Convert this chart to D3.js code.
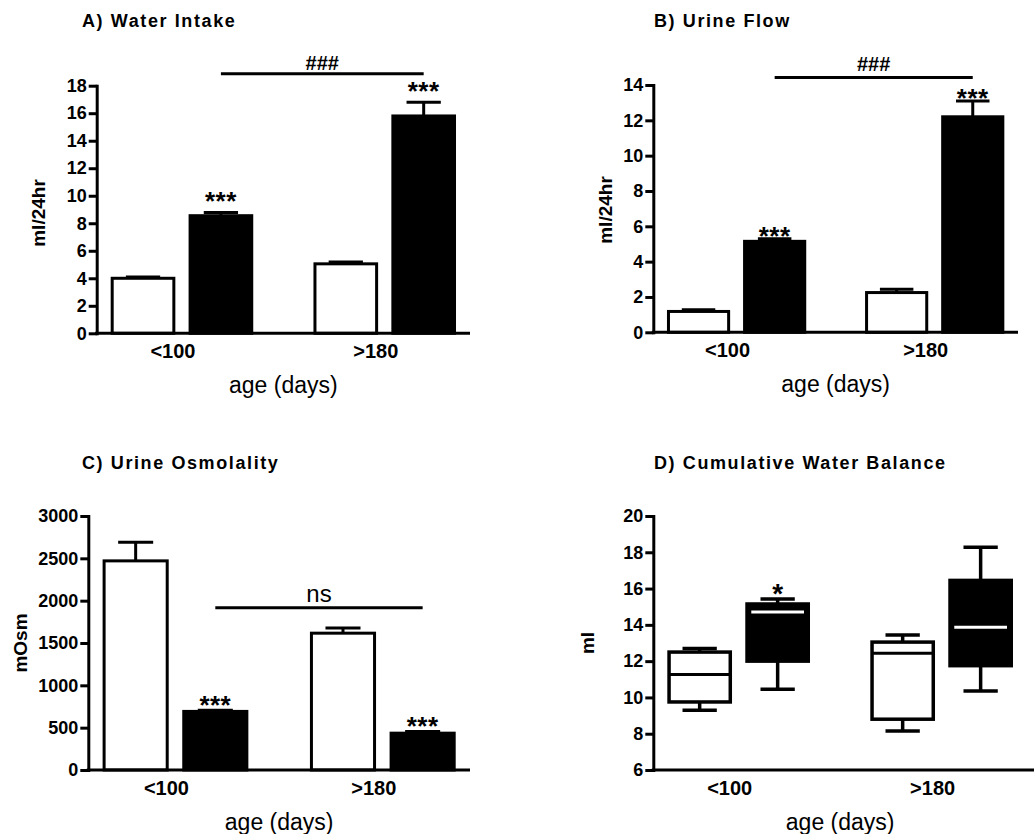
<!DOCTYPE html>
<html><head><meta charset="utf-8">
<script src="https://cdn.jsdelivr.net/npm/d3@7"></script>
<style>
body{margin:0;background:#fff}
svg{display:block}
text{font-family:"Liberation Sans", Arial, Helvetica, sans-serif; fill:#000}
</style>
</head><body>
<svg id="chart" width="1034" height="834"></svg>
<script>
// ---------- data ----------
const groups = ["<100", ">180"];
const series = ["control", "treated"];

// A) Water Intake (ml/24hr), mean and SEM
const intakeCtrl = [4.0, 5.05];
const intakeCtrlSem = [0.1, 0.14];
const intakeTreat = [8.55, 15.8];
const intakeTreatSem = [0.24, 1.0];
const intakeTicks = [0, 2, 4, 6, 8, 10, 12, 14, 16, 18];
const intakeStars = ["***", "***"];
const intakeSig = {label: "###", value: 18.87};

// B) Urine Flow (ml/24hr)
const flowCtrl = [1.18, 2.25];
const flowCtrlSem = [0.1, 0.19];
const flowTreat = [5.15, 12.2];
const flowTreatSem = [0.15, 0.9];
const flowTicks = [0, 2, 4, 6, 8, 10, 12, 14];
const flowStars = ["***", "***"];
const flowSig = {label: "###", value: 14.42};

// C) Urine Osmolality (mOsm)
const osmCtrl = [2470, 1616];
const osmCtrlSem = [220, 60];
const osmTreat = [692, 435];
const osmTreatSem = [15, 20];
const osmTicks = [0, 500, 1000, 1500, 2000, 2500, 3000];
const osmStars = ["***", "***"];
const osmSig = {label: "ns", value: 1917};

// D) Cumulative Water Balance (ml): [min, q1, median, q3, max]
const balanceCtrl = [[9.3, 9.75, 11.27, 12.5, 12.7], [8.15, 8.8, 12.43, 13.05, 13.44]];
const balanceTreat = [[10.45, 12.0, 14.71, 15.15, 15.43], [10.36, 11.75, 13.87, 16.45, 18.28]];
const balanceTicks = [6, 8, 10, 12, 14, 16, 18, 20];
const balanceStars = ["*", ""];

// ---------- drawing ----------
const svg = d3.select("#chart");
const FONT_BOLD = 700;

function scalesFor(cfg) {
  const y = d3.scaleLinear().domain([cfg.ticks[0], cfg.ticks[cfg.ticks.length - 1]]).range([cfg.bottom, cfg.top]);
  const x0 = d3.scaleBand().domain(groups).range([cfg.left, cfg.right]).paddingInner(0.297).paddingOuter(0.069);
  const x1 = d3.scaleBand().domain(series).range([0, x0.bandwidth()]).paddingInner(0.17);
  return {x0, x1, y};
}

function drawFrame(g, cfg, s) {
  const {x0, y} = s;
  // title
  g.append("text").attr("x", cfg.titleX).attr("y", cfg.titleY)
    .attr("font-size", 18).attr("font-weight", FONT_BOLD).attr("letter-spacing", "1.6px")
    .text(cfg.title);
  // y axis
  const ay = g.append("g").attr("transform", `translate(${cfg.left},0)`)
    .call(d3.axisLeft(y).tickValues(cfg.ticks).tickSize(8).tickSizeOuter(0).tickPadding(2).tickFormat(d3.format("d")));
  ay.select(".domain").attr("stroke-width", 3).attr("stroke-linecap", "square");
  ay.selectAll(".tick line").attr("stroke-width", 3);
  ay.selectAll(".tick text").attr("font-size", 18).attr("font-weight", FONT_BOLD)
    .attr("font-family", '"Liberation Sans", Arial, sans-serif').attr("fill", "#000");
  // x axis line
  g.append("line").attr("x1", cfg.left - 1.5).attr("x2", cfg.axisEnd)
    .attr("y1", cfg.bottom).attr("y2", cfg.bottom).attr("stroke", "#000").attr("stroke-width", 3);
  // category labels
  g.selectAll("text.cat").data(groups).join("text").attr("class", "cat")
    .attr("x", d => x0(d) + x0.bandwidth() / 2 - 9).attr("y", cfg.bottom + 25)
    .attr("text-anchor", "middle").attr("font-size", 20).attr("font-weight", FONT_BOLD)
    .text(d => d);
  // x title
  g.append("text").attr("x", (cfg.left + cfg.right) / 2).attr("y", cfg.bottom + 60)
    .attr("text-anchor", "middle").attr("font-size", 23).text("age (days)");
  // y title
  g.append("text").attr("transform", `translate(${cfg.yTitleX},${cfg.yTitleY}) rotate(-90)`)
    .attr("text-anchor", "middle").attr("dy", "0.35em")
    .attr("font-size", 19).attr("font-weight", FONT_BOLD).text(cfg.yTitle);
}

function barPanel(cfg) {
  const g = svg.append("g");
  const s = scalesFor(cfg);
  const {x0, x1, y} = s;
  const rows = [];
  groups.forEach((grp, i) => {
    rows.push({grp, ser: "control", v: cfg.ctrl[i], e: cfg.ctrlSem[i], star: ""});
    rows.push({grp, ser: "treated", v: cfg.treat[i], e: cfg.treatSem[i], star: cfg.stars[i]});
  });
  const cx = d => x0(d.grp) + x1(d.ser) + x1.bandwidth() / 2;
  const capHalf = x1.bandwidth() * 0.265;
  // error bars (behind bars)
  g.selectAll("line.err").data(rows).join("line").attr("class", "err")
    .attr("x1", cx).attr("x2", cx).attr("y1", d => y(d.v)).attr("y2", d => y(d.v + d.e))
    .attr("stroke", "#000").attr("stroke-width", 3);
  g.selectAll("line.cap").data(rows).join("line").attr("class", "cap")
    .attr("x1", d => cx(d) - capHalf).attr("x2", d => cx(d) + capHalf)
    .attr("y1", d => y(d.v + d.e)).attr("y2", d => y(d.v + d.e))
    .attr("stroke", "#000").attr("stroke-width", 3);
  // bars
  g.selectAll("rect.bar").data(rows).join("rect").attr("class", "bar")
    .attr("x", d => x0(d.grp) + x1(d.ser) + 1.5).attr("width", x1.bandwidth() - 3)
    .attr("y", d => y(d.v)).attr("height", d => y(cfg.ticks[0]) - y(d.v))
    .attr("fill", d => d.ser === "control" ? "#fff" : "#000")
    .attr("stroke", "#000").attr("stroke-width", 3);
  // stars
  g.selectAll("text.star").data(rows.filter(d => d.star)).join("text").attr("class", "star")
    .attr("x", cx).attr("y", d => y(d.v + d.e) - cfg.starGap)
    .attr("text-anchor", "middle").attr("font-size", 26).attr("font-weight", FONT_BOLD)
    .attr("letter-spacing", "0.5px")
    .text(d => d.star);
  // significance line between treated bars
  const xa = x0(groups[0]) + x1("treated") + x1.bandwidth() / 2;
  const xb = x0(groups[1]) + x1("treated") + x1.bandwidth() / 2;
  g.append("line").attr("x1", xa).attr("x2", xb).attr("y1", y(cfg.sig.value)).attr("y2", y(cfg.sig.value))
    .attr("stroke", "#000").attr("stroke-width", 3);
  g.append("text").attr("x", (xa + xb) / 2).attr("y", y(cfg.sig.value) - cfg.sigGap)
    .attr("text-anchor", "middle").attr("font-size", cfg.sigSize).attr("font-weight", cfg.sigWeight)
    .text(cfg.sig.label);
  drawFrame(g, cfg, s);
}

function boxPanel(cfg) {
  const g = svg.append("g");
  const s = scalesFor(cfg);
  const {x0, x1, y} = s;
  const rows = [];
  groups.forEach((grp, i) => {
    rows.push({grp, ser: "control", q: cfg.ctrl[i], star: ""});
    rows.push({grp, ser: "treated", q: cfg.treat[i], star: cfg.stars[i]});
  });
  const cx = d => x0(d.grp) + x1(d.ser) + x1.bandwidth() / 2;
  const capHalf = x1.bandwidth() * 0.265;
  const sw = 3.5;
  // whiskers
  g.selectAll("line.wtop").data(rows).join("line").attr("class", "wtop")
    .attr("x1", cx).attr("x2", cx).attr("y1", d => y(d.q[4])).attr("y2", d => y(d.q[3]))
    .attr("stroke", "#000").attr("stroke-width", sw);
  g.selectAll("line.wbot").data(rows).join("line").attr("class", "wbot")
    .attr("x1", cx).attr("x2", cx).attr("y1", d => y(d.q[1])).attr("y2", d => y(d.q[0]))
    .attr("stroke", "#000").attr("stroke-width", sw);
  [0, 4].forEach(k => {
    g.selectAll("line.cap" + k).data(rows).join("line").attr("class", "cap" + k)
      .attr("x1", d => cx(d) - capHalf).attr("x2", d => cx(d) + capHalf)
      .attr("y1", d => y(d.q[k])).attr("y2", d => y(d.q[k]))
      .attr("stroke", "#000").attr("stroke-width", sw);
  });
  // boxes
  g.selectAll("rect.box").data(rows).join("rect").attr("class", "box")
    .attr("x", d => x0(d.grp) + x1(d.ser) + sw / 2).attr("width", x1.bandwidth() - sw)
    .attr("y", d => y(d.q[3])).attr("height", d => y(d.q[1]) - y(d.q[3]))
    .attr("fill", d => d.ser === "control" ? "#fff" : "#000")
    .attr("stroke", "#000").attr("stroke-width", sw);
  // medians
  g.selectAll("line.med").data(rows).join("line").attr("class", "med")
    .attr("x1", d => x0(d.grp) + x1(d.ser) + (d.ser === "control" ? 2 : 6))
    .attr("x2", d => x0(d.grp) + x1(d.ser) + x1.bandwidth() - (d.ser === "control" ? 2 : 6))
    .attr("y1", d => y(d.q[2])).attr("y2", d => y(d.q[2]))
    .attr("stroke", d => d.ser === "control" ? "#000" : "#fff").attr("stroke-width", 3);
  g.selectAll("text.star").data(rows.filter(d => d.star)).join("text").attr("class", "star")
    .attr("x", cx).attr("y", d => y(d.q[4]) - cfg.starGap)
    .attr("text-anchor", "middle").attr("font-size", 28).attr("font-weight", FONT_BOLD)
    .text(d => d.star);
  drawFrame(g, cfg, s);
}

barPanel({title: "A) Water Intake", titleX: 82, titleY: 27, yTitle: "ml/24hr", yTitleX: 38, yTitleY: 213,
  left: 96.7, right: 470, axisEnd: 470, top: 85.7, bottom: 333.3, ticks: intakeTicks,
  ctrl: intakeCtrl, ctrlSem: intakeCtrlSem, treat: intakeTreat, treatSem: intakeTreatSem,
  stars: intakeStars, starGap: 2, sig: intakeSig, sigGap: 4, sigSize: 20, sigWeight: 700});

barPanel({title: "B) Urine Flow", titleX: 654, titleY: 27, yTitle: "ml/24hr", yTitleX: 605, yTitleY: 210,
  left: 653.3, right: 1018, axisEnd: 1018, top: 85, bottom: 332.3, ticks: flowTicks,
  ctrl: flowCtrl, ctrlSem: flowCtrlSem, treat: flowTreat, treatSem: flowTreatSem,
  stars: flowStars, starGap: -6, sig: flowSig, sigGap: 7, sigSize: 20, sigWeight: 700});

barPanel({title: "C) Urine Osmolality", titleX: 82, titleY: 469, yTitle: "mOsm", yTitleX: 20, yTitleY: 643,
  left: 88.3, right: 470, axisEnd: 470, top: 516, bottom: 770, ticks: osmTicks,
  ctrl: osmCtrl, ctrlSem: osmCtrlSem, treat: osmTreat, treatSem: osmTreatSem,
  stars: osmStars, starGap: -4, sig: osmSig, sigGap: 6, sigSize: 24, sigWeight: 400});

boxPanel({title: "D) Cumulative Water Balance", titleX: 654, titleY: 469, yTitle: "ml", yTitleX: 587, yTitleY: 643,
  left: 653.3, right: 1027, axisEnd: 1034, top: 516, bottom: 770, ticks: balanceTicks,
  ctrl: balanceCtrl, treat: balanceTreat, stars: balanceStars, starGap: -4});
</script>
</body></html>
